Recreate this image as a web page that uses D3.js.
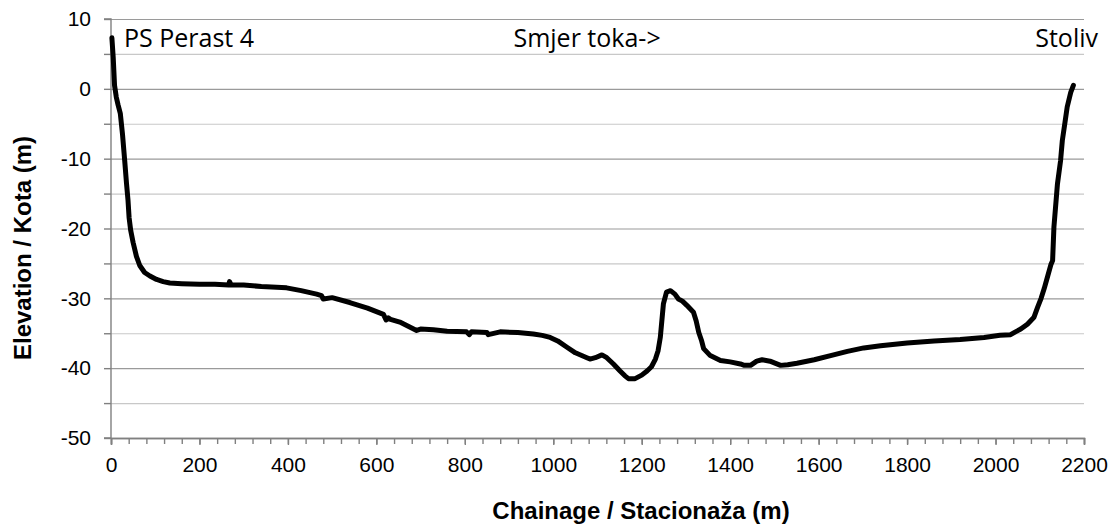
<!DOCTYPE html>
<html lang="en">
<head>
  <meta charset="UTF-8">
  <script src="https://cdn.jsdelivr.net/npm/d3@7/dist/d3.min.js"></script>
  <title>Longitudinal profile</title>
  <style>
    body { margin: 0; background: #fff; }
    .tick text { font-family: "Liberation Sans", Arial, sans-serif; font-size: 21px; fill: #000; }
    .title { font-family: "Liberation Sans", Arial, sans-serif; font-size: 24px; font-weight: bold; }
    .note { font-family: "Open Sans", sans-serif; font-size: 25px; fill: #000; }
  </style>
</head>
<body>
  <svg width="1117" height="525" id="chart"></svg>
  <script>
  // chainage (m) and elevation (m)
  const chainage = [2, 5, 8, 12, 16, 21, 26, 31, 35, 38.5, 41, 44.6, 50, 57.5, 65, 76, 88, 103, 118, 133,
    160, 200, 235, 266, 268, 272, 300, 340, 397, 430, 465, 476, 480, 500, 540, 580, 616, 622, 627, 632,
    653, 672, 691, 700, 729, 760, 804, 810, 815, 850, 853, 880, 920, 955, 975, 993, 1010, 1031, 1050,
    1076, 1083, 1095, 1110, 1121, 1136, 1151, 1162, 1170, 1185, 1200, 1212, 1222, 1231, 1237, 1242,
    1249, 1256, 1265, 1275, 1283, 1292, 1302, 1317, 1323, 1329, 1335, 1340, 1355, 1378, 1400, 1423,
    1432, 1446, 1460, 1472, 1490, 1514, 1530, 1551, 1590, 1627, 1665, 1702, 1740, 1800, 1861, 1920,
    1974, 2010, 2034, 2045, 2057, 2072, 2087, 2095, 2103, 2110, 2118, 2125, 2129, 2132, 2140, 2147,
    2151, 2157, 2162, 2170, 2176];
  const elevation = [7.3, 4.5, 0.5, -1.2, -2.3, -3.5, -6.5, -10.3, -13.5, -16, -18.5, -20.3, -22, -24, -25.3, -26.3, -26.8, -27.3, -27.6, -27.8,
    -27.9, -28.0, -28.0, -28.1, -27.6, -28.1, -28.1, -28.3, -28.5, -28.9, -29.4, -29.6, -30.1, -29.9, -30.6, -31.4, -32.3, -33.1, -32.8, -33.0,
    -33.4, -34.0, -34.6, -34.4, -34.5, -34.7, -34.8, -35.2, -34.8, -34.9, -35.2, -34.8, -34.9, -35.1, -35.3, -35.6, -36.1, -37.0, -37.8,
    -38.5, -38.7, -38.5, -38.1, -38.5, -39.4, -40.4, -41.1, -41.5, -41.5, -41.0, -40.4, -39.8, -38.7, -37.5, -35.6,
    -30.8, -29.1, -28.9, -29.4, -30.1, -30.4, -31.0, -32.0, -33.2, -34.9, -36.0, -37.2, -38.2, -38.9, -39.1, -39.4,
    -39.6, -39.6, -39.0, -38.8, -39.0, -39.6, -39.5, -39.3, -38.8, -38.2, -37.6, -37.1, -36.8, -36.4, -36.1, -35.9,
    -35.6, -35.3, -35.2, -34.8, -34.4, -33.7, -32.7, -31.3, -30.0, -28.6, -26.8, -25.2, -24.6, -19.8, -13.6, -10.3,
    -7.4, -4.8, -2.6, -0.5, 0.5];
  const yTicks = [-50, -40, -30, -20, -10, 0, 10];
  const xTicks = [0, 200, 400, 600, 800, 1000, 1200, 1400, 1600, 1800, 2000, 2200];
  const labels = [
    { text: "PS Perast 4", x: 0, anchor: "start" },
    { text: "Smjer toka->", x: 910, anchor: "start" },
    { text: "Stoliv", x: 2200, anchor: "end" }
  ];

  const data = chainage.map((c, i) => ({ c: c, e: elevation[i] }));

  const svg = d3.select("#chart");
  const plotL = 111, plotR = 1084, plotT = 19, plotB = 438;

  const scaleX = d3.scaleLinear().domain([0, 2200]).range([plotL, plotR]);
  const scaleY = d3.scaleLinear().domain([-50, 10]).range([plotB, plotT]);

  /* GRID */
  svg.append("g")
    .selectAll("line")
    .data(d3.range(-45, 11, 5))
    .enter().append("line")
    .attr("x1", plotL).attr("x2", plotR)
    .attr("y1", d => scaleY(d) + 0.5).attr("y2", d => scaleY(d) + 0.5)
    .attr("stroke", d => d % 10 === 0 ? "#9a9a9a" : "#c8c8c8")
    .attr("stroke-width", 1.2);

  /* AXES */
  const axisY = d3.axisLeft(scaleY).tickValues(d3.range(-50, 11, 5)).tickSize(7).tickPadding(13)
    .tickFormat(d => yTicks.includes(d) ? (d < 0 ? "-" + Math.abs(d) : d) : "");
  const gy = svg.append("g").attr("transform", `translate(${plotL},0)`).call(axisY);

  const axisXMinor = d3.axisBottom(scaleX).tickValues(d3.range(0, 2201, 40)).tickSize(6).tickFormat("");
  svg.append("g").attr("transform", `translate(0,${plotB})`).call(axisXMinor);

  const axisX = d3.axisBottom(scaleX).tickValues(xTicks).tickSize(7).tickPadding(12).tickFormat(d3.format("d"));
  const gx = svg.append("g").attr("transform", `translate(0,${plotB})`).call(axisX);

  svg.selectAll(".domain").attr("stroke", "#808080").attr("stroke-width", 1.4);
  svg.selectAll(".tick line").attr("stroke", "#808080").attr("stroke-width", 1.4);
  gy.select(".domain").attr("d", `M-7,${plotB}H0V${plotT}H-7`);

  /* PROFILE */
  const line = d3.line().x(d => scaleX(d.c)).y(d => scaleY(d.e));
  svg.append("path")
    .datum(data)
    .attr("d", line)
    .attr("fill", "none")
    .attr("stroke", "#000")
    .attr("stroke-width", 5)
    .attr("stroke-linejoin", "round")
    .attr("stroke-linecap", "round");

  /* TEXT */
  svg.selectAll(".note")
    .data(labels)
    .enter().append("text")
    .attr("class", "note")
    .attr("x", (d, i) => scaleX(d.x) + (i === 0 ? 13 : i === 2 ? 14 : 0))
    .attr("y", 47)
    .attr("text-anchor", d => d.anchor)
    .text(d => d.text);

  svg.append("text")
    .attr("class", "title")
    .attr("x", 641).attr("y", 519)
    .attr("text-anchor", "middle")
    .text("Chainage / Stacionaža (m)");

  svg.append("text")
    .attr("class", "title")
    .attr("transform", "translate(31,248) rotate(-90)")
    .attr("text-anchor", "middle")
    .text("Elevation / Kota (m)");
  </script>
</body>
</html>
